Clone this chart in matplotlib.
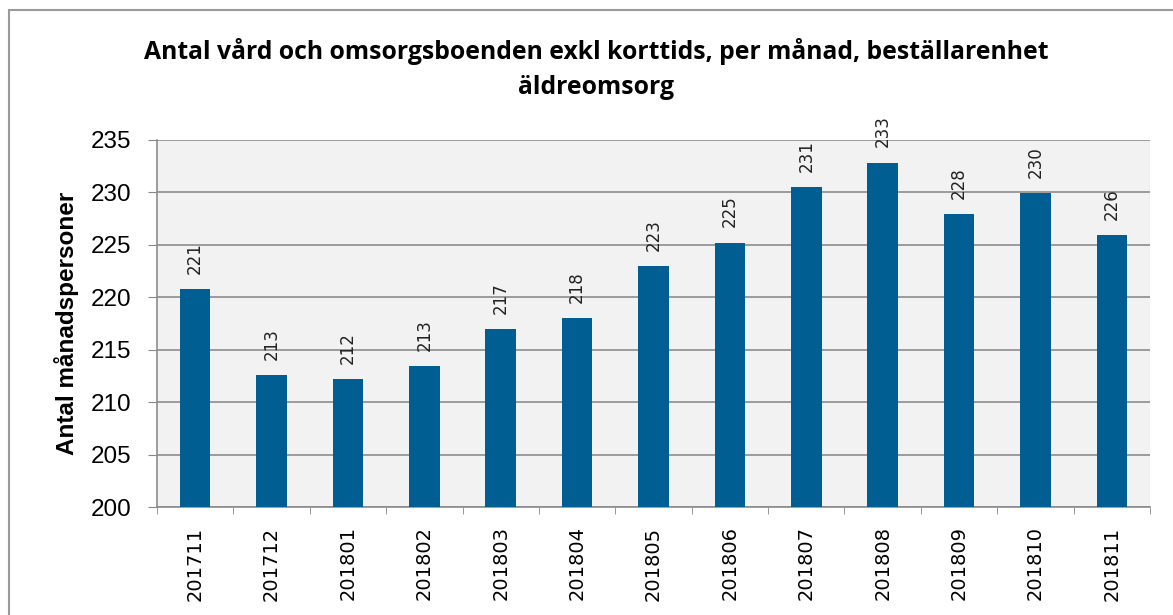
import matplotlib
matplotlib.use("Agg")
import matplotlib.pyplot as plt
from matplotlib.patches import Rectangle

months = ["201711", "201712", "201801", "201802", "201803", "201804", "201805",
          "201806", "201807", "201808", "201809", "201810", "201811"]
values = [220.8, 212.55, 212.2, 213.45, 216.95, 218.0, 223.0,
          225.2, 230.5, 232.85, 227.9, 229.95, 225.9]
labels = ["221", "213", "212", "213", "217", "218", "223",
          "225", "231", "233", "228", "230", "226"]
title = "Antal vård och omsorgsboenden exkl korttids, per månad, beställarenhet\näldreomsorg"
ylabel = "Antal månadspersoner"
yticks = [200, 205, 210, 215, 220, 225, 230, 235]

fig = plt.figure(figsize=(11.73, 6.15), dpi=100)
ax = fig.add_axes([0.1338, 0.1756, 0.9804 - 0.1338, 0.7724 - 0.1756])
ax.set_facecolor("#f2f2f2")

x = list(range(len(months)))
ax.bar(x, [v - 200 for v in values], bottom=200, width=0.4, color="#005e93", zorder=3)
for xi, v, lab in zip(x, values, labels):
    ax.annotate(lab, (xi, v), xytext=(0, 11), textcoords="offset points",
                rotation=90, ha="center", va="bottom", fontsize=12,
                family="DejaVu Sans", color="#222222", zorder=4, annotation_clip=False)

ax.set_xlim(-0.5, len(months) - 0.5)
ax.set_ylim(200, 235)
ax.set_yticks(yticks)
ax.set_yticklabels([str(t) for t in yticks], fontsize=17.5, family="Liberation Sans")
ax.set_xticks(x)
ax.set_xticklabels(months, rotation=90, fontsize=14, family="DejaVu Sans")
ax.tick_params(axis="x", which="major", length=0, pad=14)
ax.set_xticks([i - 0.5 for i in range(len(months) + 1)], minor=True)
ax.tick_params(axis="x", which="minor", length=5, color="#888888", direction="out")
ax.tick_params(axis="y", length=6.5, color="#888888", direction="out", pad=12)
ax.grid(axis="y", color="#8c8c8c", linewidth=1.2, zorder=1)
for s in ["top", "right"]:
    ax.spines[s].set_visible(False)
for s in ["left", "bottom"]:
    ax.spines[s].set_color("#8c8c8c")
    ax.spines[s].set_linewidth(1.2)

ax.set_ylabel(ylabel, fontsize=17.5, fontweight="bold", family="Liberation Sans", labelpad=8)
fig.text(0.508, 0.888, title, ha="center", va="center", fontsize=17.8, fontweight="bold",
         family="Open Sans", linespacing=1.5)

fig.patches.append(Rectangle((0.008, -0.1), 1.2, 1.084, transform=fig.transFigure,
                             fill=False, edgecolor="#9a9a9a", linewidth=1.5))

fig.savefig("out.png", dpi=100)
